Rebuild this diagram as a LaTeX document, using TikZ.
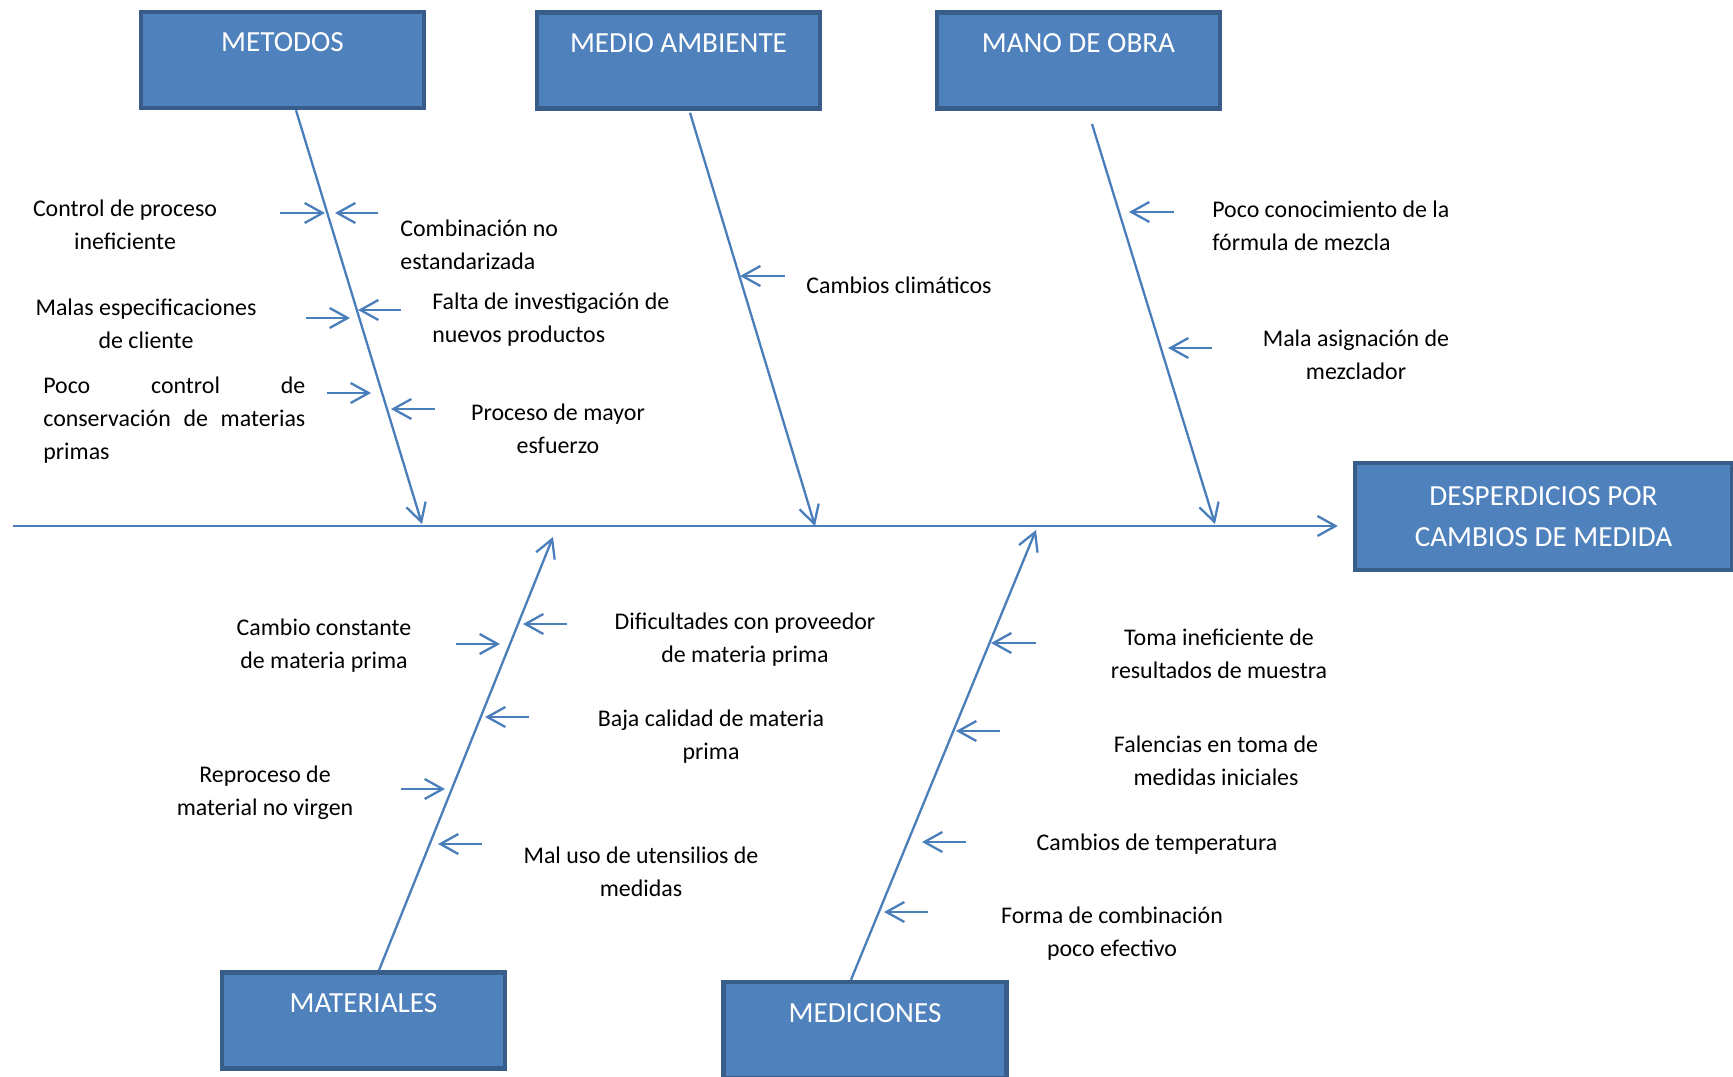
\documentclass[tikz,border=0pt]{standalone}
\usepackage{fontspec}
\setmainfont{Carlito}
\usetikzlibrary{arrows.meta}
\definecolor{boxfill}{HTML}{4F81BD}
\definecolor{boxedge}{HTML}{385D8A}
\definecolor{boneblue}{HTML}{4A7EBB}
\begin{document}
\begin{tikzpicture}[
        x=0.02cm, y=-0.02cm,
        catbox/.style={draw=boxedge, fill=boxfill, line width=0.09cm, text=white,
          font=\fontsize{16.6}{23}\selectfont, minimum width=5.66cm,
          minimum height=1.92cm, inner ysep=0pt, text height=0.8cm, text depth=1.12cm},
        effectbox/.style={draw=boxedge, fill=boxfill, line width=0.09cm, text=white,
          font=\fontsize{16.6}{23}\selectfont, minimum width=7.54cm,
          minimum height=2.14cm, align=center},
        bone/.style={draw=boneblue, line width=0.046cm,
          -{Straight Barb[length=0.36cm, width=0.4cm]}},
        causelbl/.style={font=\fontsize{13.6}{18.8}\selectfont, inner sep=0pt, align=center}
      ]
      \useasboundingbox (0,0) rectangle (1733,1077);
      % categorias y efecto
      \node[catbox] (metodos) at (282.5,60) {METODOS};
      \node[catbox] (medio) at (678.5,60.5) {MEDIO AMBIENTE};
      \node[catbox] (mano) at (1078.5,60.5) {MANO DE OBRA};
      \node[catbox] (materiales) at (363.5,1020.5) {MATERIALES};
      \node[catbox] (mediciones) at (865,1030) {MEDICIONES};
      \node[effectbox] (efecto) at (1543.5,516.5) {DESPERDICIOS POR\\CAMBIOS DE MEDIDA};
      % espina y huesos
      \coordinate (inicio) at (13,526);
      \coordinate (metodosfin) at (422,524);
      \coordinate (mediofin) at (815,526);
      \coordinate (manoini) at (1092,124);
      \coordinate (manofin) at (1215,524);
      \coordinate (materialesfin) at (553,537);
      \coordinate (medicionesfin) at (1036,530);
      \draw[bone] (inicio) -- ([xshift=-0.3cm]efecto.west |- inicio);
      \draw[bone] ([xshift=0.27cm]metodos.south) -- (metodosfin);
      \draw[bone] ([xshift=0.23cm,yshift=-0.04cm]medio.south) -- (mediofin);
      \draw[bone] (manoini) -- (manofin);
      \draw[bone] ([xshift=0.31cm]materiales.north) -- (materialesfin);
      \draw[bone] ([xshift=-0.28cm]mediciones.north) -- (medicionesfin);
      % flechas de causas
      \foreach \nm/\xs/\xe/\y in {%
        ctrl/280/325/213, comb/378/335/213, malas/306/350/318,
        falta/401/358/310, poco/327/371/393, proceso/435/391/409,
        clima/785/740/276, conoc/1174/1129/212, asign/1212/1168/348,
        dific/567/523/624, cambio/456/500/644, baja/529/485/717,
        repro/401/445/789, maluso/482/438/844, toma/1036/991/643,
        falen/1000/956/731, temp/966/922/842, forma/928/884/912%
      }{
        \coordinate (\nm-a) at (\xs,\y);
        \coordinate (\nm-b) at (\xe,\y);
        \draw[bone] (\nm-a) -- (\nm-b);
      }
      % textos de causas
      \node[causelbl] (ctrltxt) at (125,224.5) {Control de proceso\\ineficiente};
      \node[causelbl, align=left, anchor=west] (combtxt) at (400,244.5)
        {Combinación no\\estandarizada};
      \node[causelbl] (malastxt) at (146,323.5) {Malas especificaciones\\de cliente};
      \node[causelbl, align=left, anchor=west] (faltatxt) at (432,320)
        {Falta de investigación de\\nuevos productos};
      \node[causelbl, align=left, anchor=west, text width=5.24cm] (pocotxt) at (43,420)
        {Poco\hfill control\hfill de\\conservación\hfill de\hfill materias\\primas};
      \node[causelbl] (procesotxt) at (558,429) {Proceso de mayor\\esfuerzo};
      \node[causelbl, anchor=west] (climatxt) at (806,285) {Cambios climáticos};
      \node[causelbl, align=left, anchor=west] (conoctxt) at (1212,226)
        {Poco conocimiento de la\\fórmula de mezcla};
      \node[causelbl] (asigntxt) at (1356,355) {Mala asignación de\\mezclador};
      \node[causelbl] (cambiotxt) at (324,645.5) {Cambio constante\\de materia prima};
      \node[causelbl] (difictxt) at (745,639.5) {Dificultades con proveedor\\de materia prima};
      \node[causelbl] (bajatxt) at (711,737) {Baja calidad de materia\\prima};
      \node[causelbl] (reprotxt) at (265,792.5) {Reproceso de\\material no virgen};
      \node[causelbl] (malusotxt) at (641,871.5) {Mal uso de utensilios de\\medidas};
      \node[causelbl] (tomatxt) at (1219,654) {Toma ineficiente de\\resultados de muestra};
      \node[causelbl] (falentxt) at (1216,760.5) {Falencias en toma de\\medidas iniciales};
      \node[causelbl] (temptxt) at (1157,844) {Cambios de temperatura};
      \node[causelbl] (formatxt) at (1112,933.5) {Forma de combinación\\poco efectivo};
    \end{tikzpicture}
\end{document}
